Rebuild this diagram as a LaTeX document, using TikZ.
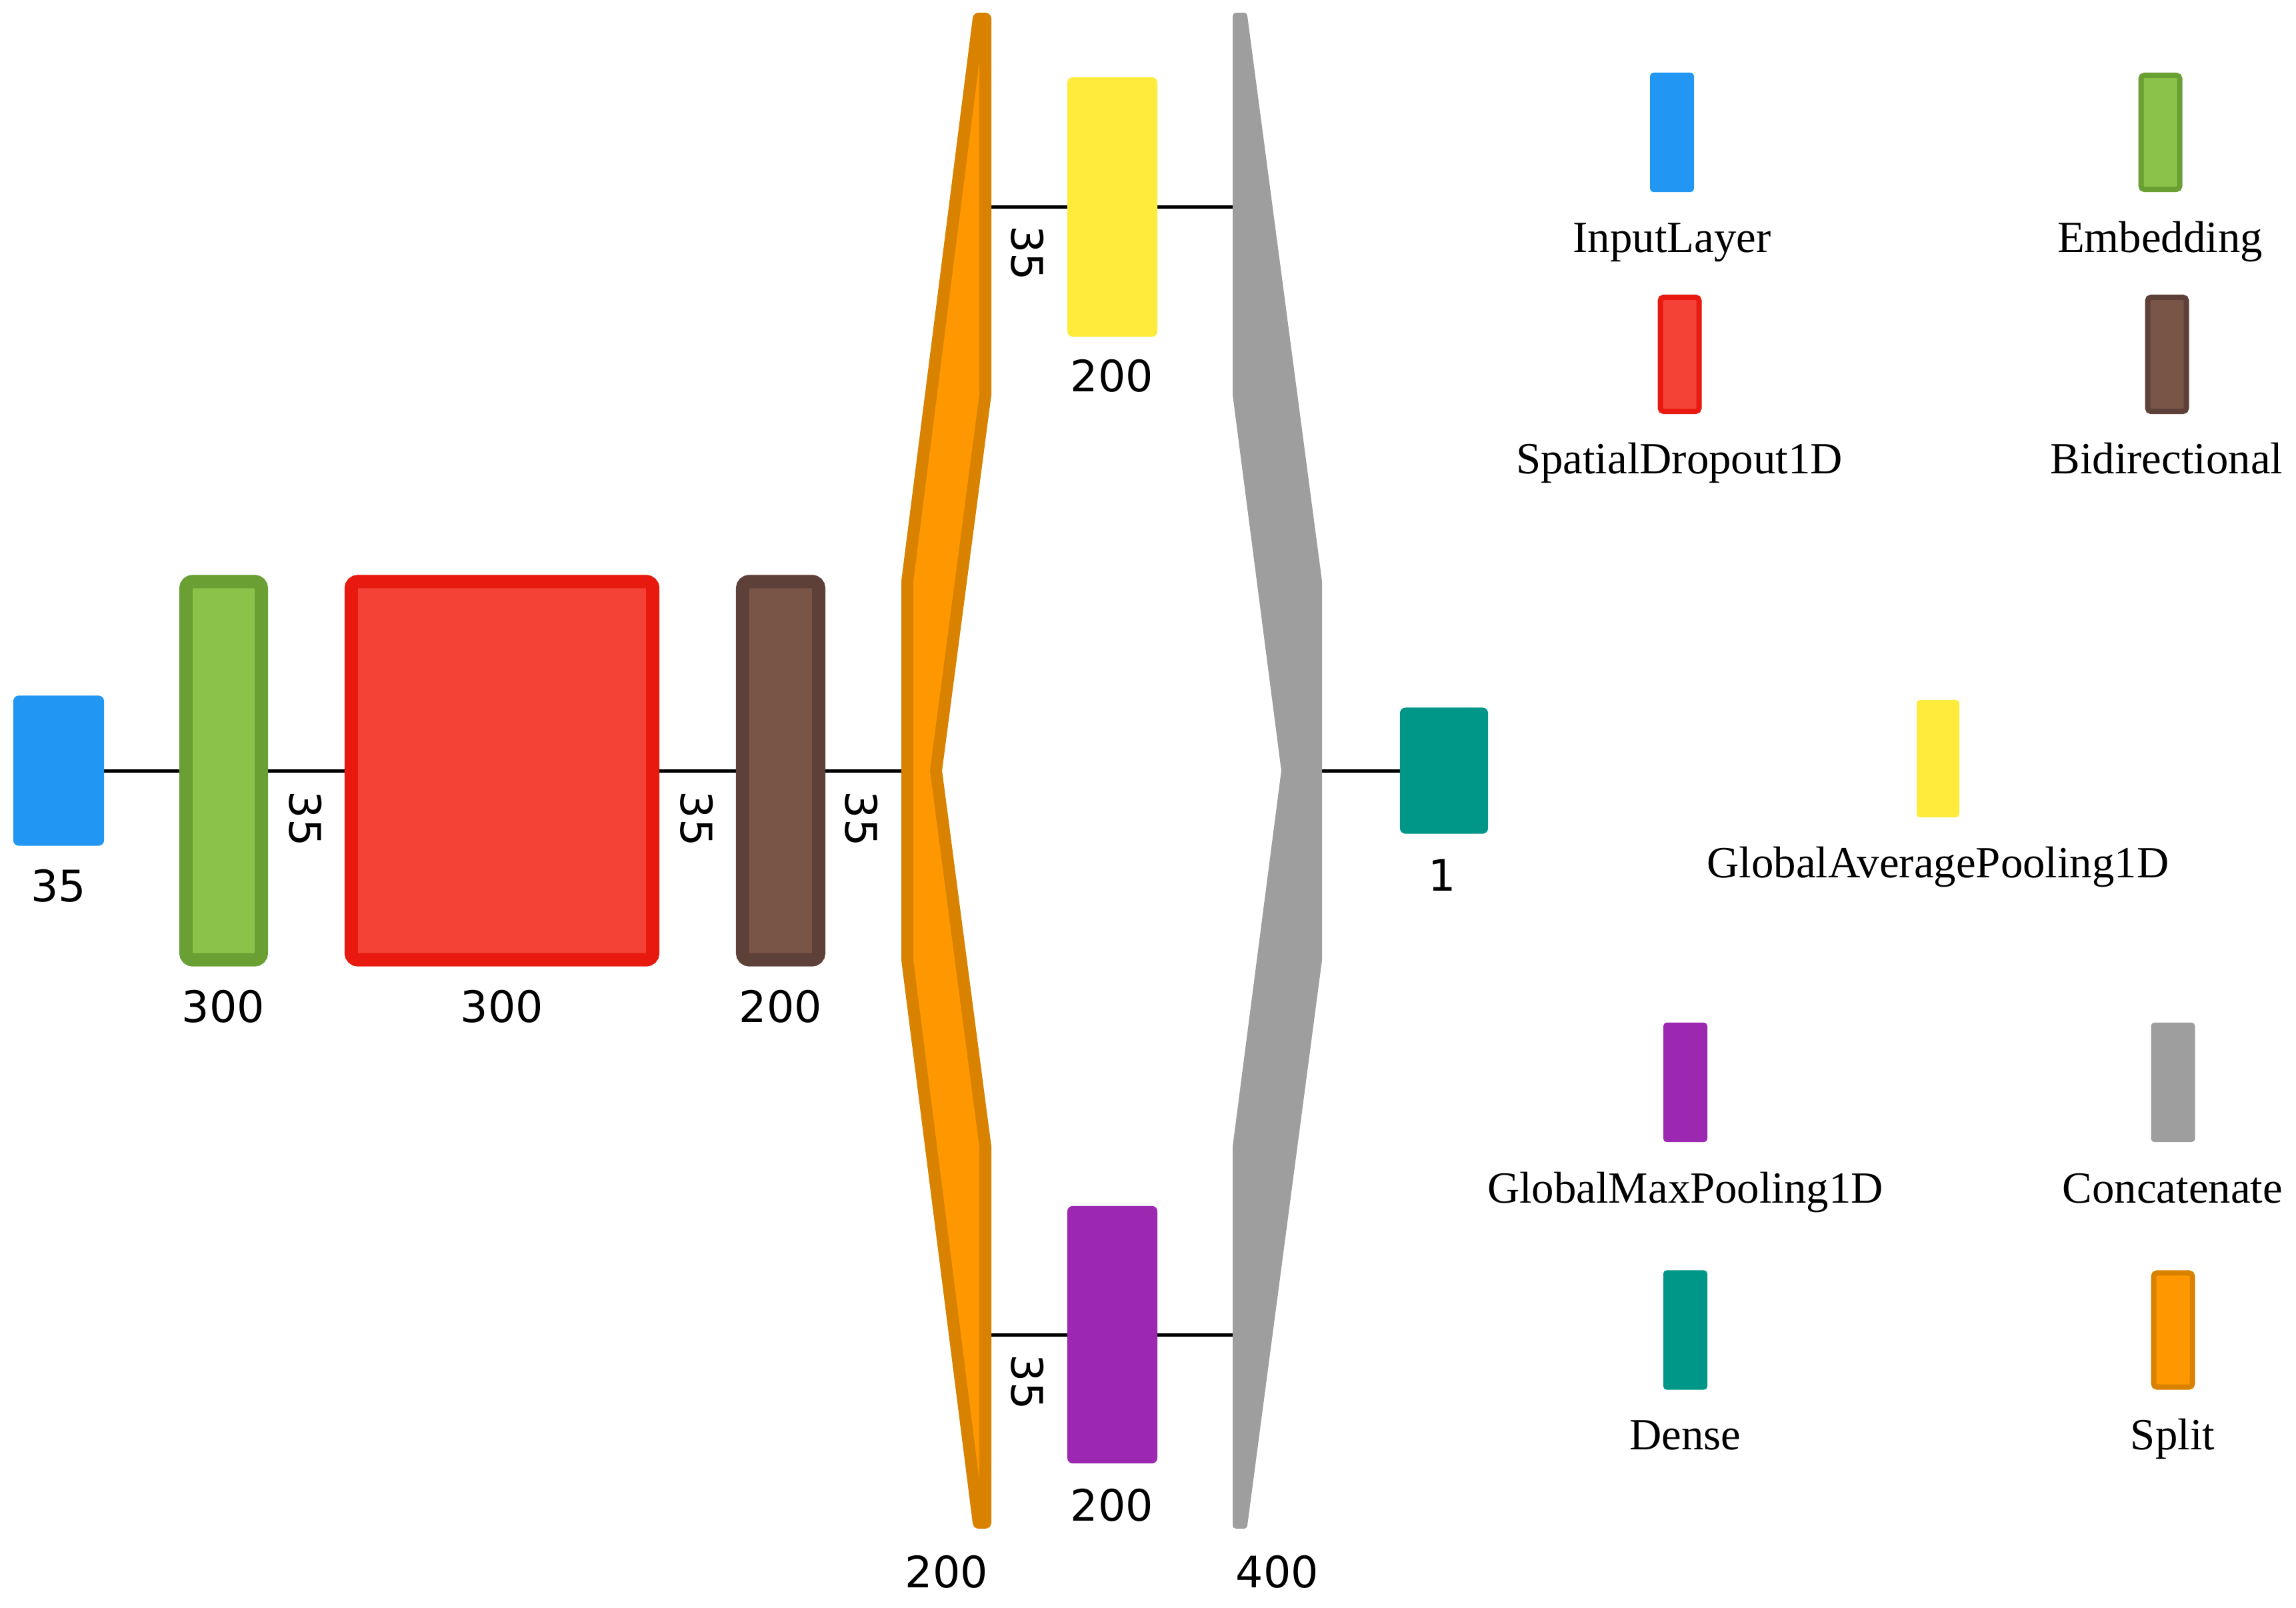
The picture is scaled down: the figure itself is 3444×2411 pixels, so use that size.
\documentclass[tikz,border=0pt]{standalone}
\usepackage{fontspec}
\setmainfont{Liberation Serif}
\newfontfamily\numfont{DejaVu Sans}
\usetikzlibrary{backgrounds}
\definecolor{cblue}{HTML}{2196F3}
\definecolor{cgreen}{HTML}{8BC34A}
\definecolor{cgreenD}{HTML}{6A9F34}
\definecolor{cred}{HTML}{F44336}
\definecolor{credD}{HTML}{E8190E}
\definecolor{cbrown}{HTML}{795548}
\definecolor{cbrownD}{HTML}{5D4037}
\definecolor{cyellow}{HTML}{FFEB3B}
\definecolor{cpurple}{HTML}{9C27B0}
\definecolor{cgray}{HTML}{9E9E9E}
\definecolor{cteal}{HTML}{009688}
\definecolor{corange}{HTML}{FF9800}
\definecolor{corangeD}{HTML}{D98200}
\begin{document}
\begin{tikzpicture}[x=0.01cm,y=-0.01cm,
  bord/.style={draw, line width=0.2cm, rounded corners=0.1cm, inner sep=0pt, outer sep=0pt},
  flat/.style={draw=none, rounded corners=0.08cm, inner sep=0pt, outer sep=0pt},
  lbord/.style={draw, line width=0.08cm, rounded corners=0.05cm, inner sep=0pt, outer sep=0pt, minimum width=0.58cm, minimum height=1.71cm},
  lflat/.style={draw=none, rounded corners=0.05cm, inner sep=0pt, outer sep=0pt, minimum width=0.66cm, minimum height=1.79cm},
  numlab/.style={font=\numfont\fontsize{18.5}{20}\selectfont, inner sep=0pt},
  dimlab/.style={numlab, rotate=-90},
  legtext/.style={font=\fontsize{19}{21}\selectfont, inner sep=0pt, anchor=base},
  conn/.style={draw=black, line width=0.05cm}]
\useasboundingbox (0,0) rectangle (3444,2411);

% main layers
\node[flat, fill=cblue, minimum width=1.36cm, minimum height=2.25cm] (inp) at (88,1156) {};
\node[bord, draw=cgreenD, fill=cgreen, minimum width=1.13cm, minimum height=5.67cm] (emb) at (335.5,1156) {};
\node[bord, draw=credD, fill=cred, minimum width=4.52cm, minimum height=5.67cm] (sdo) at (753,1156) {};
\node[bord, draw=cbrownD, fill=cbrown, minimum width=1.14cm, minimum height=5.67cm] (bid) at (1171,1156) {};
\node[flat, fill=cyellow, minimum width=1.35cm, minimum height=3.89cm] (gap) at (1668.5,310.5) {};
\node[flat, fill=cpurple, minimum width=1.35cm, minimum height=3.86cm] (gmp) at (1668.5,2002) {};
\node[flat, fill=cteal, minimum width=1.32cm, minimum height=1.89cm] (dense) at (2166,1156) {};

% split and concatenate shapes
\filldraw[fill=corange, draw=corangeD, line width=0.18cm, line join=round]
  (1478,28) -- (1478,592) -- (1404,1156) -- (1478,1720) -- (1478,2284) -- (1468,2284)
  -- (1361,1440) -- (1361,872) -- (1468,28) -- cycle;
\filldraw[fill=cgray, draw=cgray, line width=0.1cm, line join=round]
  (1854,24) -- (1866,24) -- (1978,872) -- (1978,1440) -- (1866,2288) -- (1854,2288)
  -- (1854,1720) -- (1927,1156) -- (1854,592) -- cycle;
\coordinate (splitin) at (1361,1156);
\coordinate (splitup) at (1478,310.5);
\coordinate (splitdn) at (1478,2002);
\coordinate (catup) at (1854,310.5);
\coordinate (catdn) at (1854,2002);
\coordinate (catout) at (1978,1156);

% connectors
\begin{scope}[on background layer]
\draw[conn] (inp.east) -- (emb.west);
\draw[conn] (emb.east) -- (sdo.west);
\draw[conn] (sdo.east) -- (bid.west);
\draw[conn] (bid.east) -- (splitin);
\draw[conn] (splitup) -- (gap.west);
\draw[conn] (gap.east) -- (catup);
\draw[conn] (splitdn) -- (gmp.west);
\draw[conn] (gmp.east) -- (catdn);
\draw[conn] (catout) -- (dense.west);
\end{scope}

% size labels
\node[numlab] (l1) at (88,1329) {35};
\node[numlab] (l2) at (335,1510) {300};
\node[numlab] (l3) at (753,1510) {300};
\node[numlab] (l4) at (1171,1510) {200};
\node[dimlab] (d1) at (458,1228) {35};
\node[dimlab] (d2) at (1045,1228) {35};
\node[dimlab] (d3) at (1292,1228) {35};
\node[dimlab] (d4) at (1541,380) {35};
\node[numlab] (l5) at (1668,564) {200};
\node[dimlab] (d5) at (1541,2073) {35};
\node[numlab] (l6) at (1668,2258) {200};
\node[numlab] (l7) at (1420,2358) {200};
\node[numlab] (l8) at (1916,2358) {400};
\node[numlab] (l9) at (2163,1313) {1};

% legend
\node[lflat, fill=cblue] (lin) at (2508,198.5) {};
\node[legtext] (tin) at (2508,378) {InputLayer};
\node[lbord, draw=cgreenD, fill=cgreen] (lemb) at (3240.5,198.5) {};
\node[legtext] (temb) at (3240,378) {Embedding};
\node[lbord, draw=credD, fill=cred] (lsdo) at (2519.5,531.5) {};
\node[legtext] (tsdo) at (2519,710) {SpatialDropout1D};
\node[lbord, draw=cbrownD, fill=cbrown] (lbid) at (3250.5,531.5) {};
\node[legtext] (tbid) at (3250,710) {Bidirectional};
\node[lflat, fill=cyellow, minimum width=0.64cm, minimum height=1.76cm] (lgap) at (2907,1138) {};
\node[legtext] (tgap) at (2907,1316) {GlobalAveragePooling1D};
\node[lflat, fill=cpurple] (lgmp) at (2528,1623.5) {};
\node[legtext] (tgmp) at (2528,1804) {GlobalMaxPooling1D};
\node[lflat, fill=cgray] (lcat) at (3259.5,1623.5) {};
\node[legtext] (tcat) at (3259,1804) {Concatenate};
\node[lflat, fill=cteal] (lden) at (2528,1995) {};
\node[legtext] (tden) at (2528,2174) {Dense};
\node[lbord, draw=corangeD, fill=corange] (lspl) at (3259.5,1995) {};
\node[legtext] (tspl) at (3259,2174) {Split};
\end{tikzpicture}
\end{document}
